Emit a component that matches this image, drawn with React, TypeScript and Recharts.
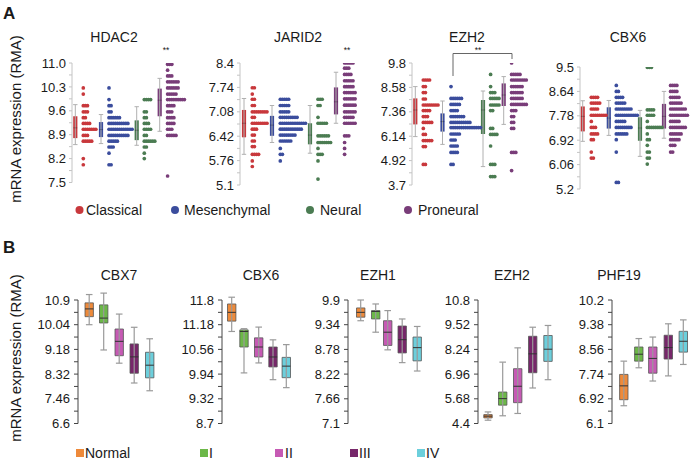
import React from 'react';
import { ComposedChart, Scatter, XAxis, YAxis, ReferenceArea, ReferenceLine } from 'recharts';

const FONT = 'Arial, "Liberation Sans", Helvetica, sans-serif';

// ---- panel A: GBM subtypes (dot rows + box) ----
const subtypes = ['Classical', 'Mesenchymal', 'Neural', 'Proneural'];
const subtypeColors = ['#c8383c', '#3b4d9d', '#4b7c52', '#793d79'];
const genesA = ['HDAC2', 'JARID2', 'EZH2', 'CBX6'];

const hdac2Ticks = ['7.5', '8.2', '8.9', '9.6', '10.3', '11.0'];
const jarid2Ticks = ['5.1', '5.76', '6.42', '7.08', '7.74', '8.4'];
const ezh2ATicks = ['3.7', '4.92', '6.14', '7.36', '8.58', '9.8'];
const cbx6ATicks = ['5.2', '6.06', '6.92', '7.78', '8.64', '9.5'];

// [min, q1, median, q3, max]
const hdac2Stats = [[8.61, 8.8, 9.1, 9.44, 9.78], [8.64, 8.83, 9.05, 9.27, 9.49], [8.59, 8.74, 9.03, 9.32, 9.72], [9.0, 9.44, 9.91, 10.25, 10.55]];
const jarid2Stats = [[5.93, 6.39, 6.77, 7.13, 7.44], [6.25, 6.43, 6.72, 6.97, 7.25], [5.96, 6.2, 6.45, 6.77, 7.25], [6.77, 7.01, 7.35, 7.74, 8.15]];
const ezh2AStats = [[6.12, 6.73, 7.45, 8.03, 8.62], [5.73, 6.37, 6.87, 7.28, 7.9], [4.62, 6.25, 7.45, 7.95, 8.4], [6.73, 7.65, 8.2, 8.78, 9.12]];
const cbx6AStats = [[6.88, 7.23, 7.76, 8.11, 8.31], [7.09, 7.33, 7.7, 8.08, 8.32], [6.35, 6.9, 7.35, 7.73, 7.97], [6.99, 7.33, 7.76, 8.2, 8.64]];

// dot rows: [value, number of samples]
const hdac2Rows = [
  [[10.27, 1], [10.09, 1], [9.75, 3], [9.57, 3], [9.4, 2], [9.23, 4], [9.06, 7], [8.88, 3], [8.71, 5], [8.2, 1], [8.02, 1]],
  [[10.27, 1], [9.93, 1], [9.75, 2], [9.57, 2], [9.4, 6], [9.23, 10], [9.06, 12], [8.88, 10], [8.71, 5], [8.54, 3], [8.36, 1], [8.02, 2]],
  [[9.93, 4], [9.57, 2], [9.4, 2], [9.23, 3], [9.06, 4], [8.88, 2], [8.71, 6], [8.54, 2], [8.36, 1], [8.2, 1]],
  [[10.96, 3], [10.79, 1], [10.62, 3], [10.45, 6], [10.27, 6], [10.09, 5], [9.93, 9], [9.75, 4], [9.57, 3], [9.4, 4], [9.23, 4], [9.06, 3], [8.88, 5], [7.69, 1]],
];
const jarid2Rows = [
  [[7.73, 2], [7.56, 1], [7.42, 2], [7.25, 2], [7.08, 8], [6.93, 2], [6.77, 8], [6.61, 3], [6.45, 2], [6.29, 2], [6.14, 2], [5.93, 4], [5.75, 1], [5.6, 1]],
  [[7.42, 5], [7.25, 5], [7.08, 5], [6.93, 9], [6.77, 13], [6.61, 11], [6.45, 8], [6.29, 6], [6.09, 1], [5.93, 2], [5.75, 1]],
  [[7.42, 3], [7.25, 2], [6.93, 1], [6.77, 5], [6.43, 6], [6.25, 7], [6.09, 1], [5.93, 3], [5.75, 1], [5.26, 1]],
  [[8.4, 5], [8.26, 3], [8.09, 4], [7.92, 5], [7.76, 5], [7.6, 6], [7.43, 6], [7.26, 6], [7.08, 6], [6.93, 5], [6.77, 6], [6.43, 3], [6.25, 1], [6.09, 1], [5.93, 1]],
];
const ezh2ARows = [
  [[8.95, 4], [8.62, 2], [8.32, 2], [8.0, 2], [7.7, 8], [7.42, 4], [7.12, 3], [6.83, 5], [6.53, 1], [6.23, 2], [5.92, 5], [5.62, 2], [4.73, 2]],
  [[8.62, 1], [8.03, 6], [7.73, 5], [7.42, 4], [7.12, 7], [6.83, 10], [6.57, 15], [6.25, 5], [5.95, 3], [5.65, 4], [5.33, 4], [4.73, 2]],
  [[9.23, 1], [8.62, 1], [8.32, 3], [8.03, 5], [7.7, 5], [7.42, 2], [6.53, 2], [6.23, 4], [5.65, 1], [4.73, 3], [4.12, 3]],
  [[9.8, 1], [9.23, 5], [8.95, 8], [8.62, 6], [8.32, 6], [8.03, 6], [7.73, 8], [7.42, 3], [7.12, 2], [6.83, 2], [6.53, 2], [5.33, 3], [4.42, 1]],
];
const cbx6ARows = [
  [[8.43, 4], [8.23, 5], [8.02, 4], [7.8, 8], [7.58, 1], [7.37, 3], [7.14, 4], [6.94, 2], [6.5, 1], [6.29, 2]],
  [[8.85, 1], [8.64, 2], [8.43, 4], [8.23, 5], [8.02, 8], [7.8, 11], [7.58, 5], [7.37, 8], [7.14, 6], [6.94, 1], [6.5, 1], [5.43, 2]],
  [[9.49, 3], [7.99, 4], [7.8, 4], [7.58, 1], [7.37, 8], [7.14, 1], [6.94, 2], [6.74, 1], [6.5, 2], [6.29, 2], [6.08, 1]],
  [[8.85, 4], [8.64, 4], [8.43, 5], [8.23, 6], [8.02, 8], [7.8, 9], [7.58, 5], [7.37, 8], [7.14, 6], [6.94, 5], [6.74, 3], [6.5, 2]],
];

// ---- panel B: grades ----
const grades = ['Normal', 'I', 'II', 'III', 'IV'];
const gradeColors = ['#ee8a3a', '#6cb848', '#c65ab4', '#77276a', '#6ccfdc'];
const genesB = ['CBX7', 'CBX6', 'EZH1', 'EZH2', 'PHF19'];

const cbx7Ticks = ['6.6', '7.46', '8.32', '9.18', '10.04', '10.9'];
const cbx6BTicks = ['8.7', '9.32', '9.94', '10.56', '11.18', '11.8'];
const ezh1Ticks = ['7.1', '7.66', '8.22', '8.78', '9.34', '9.9'];
const ezh2BTicks = ['4.4', '5.68', '6.96', '8.24', '9.52', '10.8'];
const phf19Ticks = ['6.1', '6.92', '7.74', '8.56', '9.38', '10.2'];

const cbx7Stats = [[10.04, 10.32, 10.59, 10.8, 11.09], [9.16, 10.1, 10.27, 10.73, 11.14], [8.7, 8.96, 9.46, 9.89, 10.41], [8.01, 8.35, 8.92, 9.37, 9.95], [7.74, 8.19, 8.63, 9.08, 9.55]];
const cbx6BStats = [[11.01, 11.27, 11.49, 11.7, 11.87], [9.97, 10.62, 11.01, 11.05, 11.08], [10.22, 10.37, 10.62, 10.85, 11.12], [9.8, 10.12, 10.37, 10.62, 10.8], [9.6, 9.85, 10.14, 10.36, 10.68]];
const ezh1Stats = [[9.43, 9.51, 9.62, 9.72, 9.9], [9.17, 9.47, 9.64, 9.66, 9.81], [8.77, 8.87, 9.17, 9.43, 9.66], [8.48, 8.7, 9.0, 9.31, 9.47], [8.29, 8.52, 8.82, 9.06, 9.3]];
const ezh2BStats = [[4.57, 4.69, 4.78, 4.86, 5.0], [4.8, 5.35, 5.69, 6.03, 7.58], [4.92, 5.48, 6.33, 7.24, 8.32], [6.24, 7.03, 8.01, 8.92, 9.39], [6.67, 7.62, 8.25, 8.96, 9.48]];
const phf19Stats = [[6.69, 6.89, 7.35, 7.73, 8.17], [7.95, 8.17, 8.4, 8.64, 8.92], [7.51, 7.77, 8.26, 8.64, 8.97], [7.68, 8.24, 8.62, 9.03, 9.41], [8.06, 8.47, 8.83, 9.16, 9.54]];

// ---- layout ----
const YW = 50;
const PAD = 12;
const A_PW = 122;
const B_PW = 80;
const DOT_STEP = 2.1;

const layoutA = [
  { axis: 72, top: 63, bottom: 182.5, box: [3.3, 29, 64.7, 87.7], dots: [11.3, 37, 72.3, 95.6], titleX: 114 },
  { axis: 240, top: 63, bottom: 185, box: [4, 32, 70, 96], dots: [12.3, 40.3, 78, 104.6], titleX: 298 },
  { axis: 412, top: 63, bottom: 185, box: [3.3, 30.5, 71, 91.7], dots: [11.3, 39, 78.6, 99.6], titleX: 467 },
  { axis: 580, top: 67, bottom: 189, box: [2.7, 28.8, 60, 84], dots: [11.3, 36.3, 67.3, 90.6], titleX: 628 },
];
const layoutB = [
  { axis: 78.3, box: [11.2, 25.7, 41.2, 56.2, 71.7], titleX: 119 },
  { axis: 222, box: [9.7, 22, 36.7, 51, 64.3], titleX: 261 },
  { axis: 348.3, box: [12.7, 27.7, 39.7, 54.2, 69.2], titleX: 378 },
  { axis: 478.3, box: [10, 24.7, 39.7, 54.7, 70], titleX: 512 },
  { axis: 611.7, box: [11.8, 26.8, 40.8, 56.3, 71.3], titleX: 619 },
];
const B_TOP = 300;
const B_BOTTOM = 423.5;

function tickSet(labels: string[]) {
  const vals = labels.map(Number);
  const all: number[] = [];
  vals.forEach((v, i) => {
    all.push(v);
    if (i < vals.length - 1) all.push((v + vals[i + 1]) / 2);
  });
  const fmt = (v: number) => {
    const i = vals.findIndex((t) => Math.abs(t - v) < 1e-6);
    return i >= 0 ? labels[i] : '';
  };
  return { vals, all, fmt };
}

function DotBoxPlot({ ticks, stats, rows, lay }: any) {
  const { vals, all, fmt } = tickSet(ticks);
  const h = lay.bottom - lay.top;
  return (
    <div style={{ position: 'absolute', left: lay.axis - YW, top: lay.top - PAD }}>
      <ComposedChart width={YW + A_PW} height={h + PAD * 2} margin={{ top: PAD, bottom: PAD, left: 0, right: 0 }}>
        <XAxis type="number" dataKey="x" domain={[0, A_PW]} hide allowDataOverflow />
        <YAxis
          type="number"
          dataKey="y"
          width={YW}
          domain={[vals[0], vals[vals.length - 1]]}
          ticks={all}
          interval={0}
          allowDataOverflow
          tickFormatter={fmt}
          axisLine={{ stroke: '#c4c4c4' }}
          tickLine={{ stroke: '#c4c4c4' }}
          tickSize={3}
          tickMargin={3}
          tick={{ fill: '#1a1a1a', fontSize: 13, fontFamily: FONT }}
        />
        {stats.map((s: number[], g: number) => {
          const c = lay.box[g];
          return (
            <React.Fragment key={'w' + g}>
              <ReferenceLine segment={[{ x: c, y: s[0] }, { x: c, y: s[4] }]} stroke="#b0b0b0" ifOverflow="visible" />
              <ReferenceLine segment={[{ x: c - 2.2, y: s[0] }, { x: c + 2.2, y: s[0] }]} stroke="#b0b0b0" ifOverflow="visible" />
              <ReferenceLine segment={[{ x: c - 2.2, y: s[4] }, { x: c + 2.2, y: s[4] }]} stroke="#b0b0b0" ifOverflow="visible" />
              <ReferenceArea x1={c - 2.1} x2={c + 2.1} y1={s[1]} y2={s[3]} fill={subtypeColors[g]} fillOpacity={1} stroke="none" ifOverflow="visible" />
              <ReferenceLine segment={[{ x: c - 2.1, y: s[2] }, { x: c + 2.1, y: s[2] }]} stroke="rgba(0,0,0,0.25)" ifOverflow="visible" />
            </React.Fragment>
          );
        })}
        {rows.map((r: number[][], g: number) => {
          const pts: { x: number; y: number }[] = [];
          r.forEach(([v, n]) => {
            for (let k = 0; k < n; k++) pts.push({ x: lay.dots[g] + k * DOT_STEP, y: v });
          });
          const col = subtypeColors[g];
          return (
            <Scatter
              key={'s' + g}
              data={pts}
              isAnimationActive={false}
              shape={(p: any) => <circle cx={p.cx} cy={p.cy} r={1.85} fill={col} />}
            />
          );
        })}
      </ComposedChart>
    </div>
  );
}

function GradeBoxPlot({ ticks, stats, lay }: any) {
  const { vals, all, fmt } = tickSet(ticks);
  const h = B_BOTTOM - B_TOP;
  return (
    <div style={{ position: 'absolute', left: lay.axis - YW, top: B_TOP - PAD }}>
      <ComposedChart width={YW + B_PW} height={h + PAD * 2} margin={{ top: PAD, bottom: PAD, left: 0, right: 0 }}>
        <XAxis type="number" dataKey="x" domain={[0, B_PW]} hide allowDataOverflow />
        <YAxis
          type="number"
          dataKey="y"
          width={YW}
          domain={[vals[0], vals[vals.length - 1]]}
          ticks={all}
          interval={0}
          allowDataOverflow
          tickFormatter={fmt}
          axisLine={{ stroke: '#444' }}
          tickLine={{ stroke: '#444' }}
          tickSize={4}
          tickMargin={4}
          tick={{ fill: '#1a1a1a', fontSize: 13, fontFamily: FONT }}
        />
        {stats.map((s: number[], g: number) => {
          const c = lay.box[g];
          return (
            <React.Fragment key={'b' + g}>
              <ReferenceLine segment={[{ x: c, y: s[0] }, { x: c, y: s[4] }]} stroke="#9a9a9a" strokeWidth={1.2} ifOverflow="visible" />
              <ReferenceLine segment={[{ x: c - 3.3, y: s[0] }, { x: c + 3.3, y: s[0] }]} stroke="#9a9a9a" strokeWidth={1.2} ifOverflow="visible" />
              <ReferenceLine segment={[{ x: c - 3.3, y: s[4] }, { x: c + 3.3, y: s[4] }]} stroke="#9a9a9a" strokeWidth={1.2} ifOverflow="visible" />
              <ReferenceArea x1={c - 4.2} x2={c + 4.2} y1={s[1]} y2={s[3]} fill={gradeColors[g]} fillOpacity={1} stroke="#555" strokeWidth={0.8} ifOverflow="visible" />
              <ReferenceLine segment={[{ x: c - 4.2, y: s[2] }, { x: c + 4.2, y: s[2] }]} stroke="#333" strokeWidth={1} ifOverflow="visible" />
            </React.Fragment>
          );
        })}
      </ComposedChart>
    </div>
  );
}

const aTickSets = [hdac2Ticks, jarid2Ticks, ezh2ATicks, cbx6ATicks];
const aStatSets = [hdac2Stats, jarid2Stats, ezh2AStats, cbx6AStats];
const aRowSets = [hdac2Rows, jarid2Rows, ezh2ARows, cbx6ARows];
const bTickSets = [cbx7Ticks, cbx6BTicks, ezh1Ticks, ezh2BTicks, phf19Ticks];
const bStatSets = [cbx7Stats, cbx6BStats, ezh1Stats, ezh2BStats, phf19Stats];

const legendA = [
  { dot: 79.5, text: 86 },
  { dot: 175, text: 184 },
  { dot: 310, text: 320 },
  { dot: 408, text: 418 },
];
const legendB = [
  { sq: 76, text: 85 },
  { sq: 200, text: 209 },
  { sq: 275, text: 285 },
  { sq: 350, text: 359 },
  { sq: 417, text: 426 },
];

export default function App() {
  const txt = { fontFamily: FONT, fill: '#1a1a1a' };
  return (
    <div style={{ position: 'absolute', left: 0, top: 0, width: 691, height: 463, background: '#fff', overflow: 'hidden' }}>
      {genesA.map((g, i) => (
        <DotBoxPlot key={g} ticks={aTickSets[i]} stats={aStatSets[i]} rows={aRowSets[i]} lay={layoutA[i]} />
      ))}
      {genesB.map((g, i) => (
        <GradeBoxPlot key={g + i} ticks={bTickSets[i]} stats={bStatSets[i]} lay={layoutB[i]} />
      ))}
      <svg width={691} height={463} style={{ position: 'absolute', left: 0, top: 0, pointerEvents: 'none' }}>
        <text x={3} y={19} fontSize={17} fontWeight="bold" {...txt}>A</text>
        <text x={3} y={253} fontSize={17} fontWeight="bold" {...txt}>B</text>
        <text transform="translate(21,119) rotate(-90)" textAnchor="middle" fontSize={15} {...txt}>mRNA expression (RMA)</text>
        <text transform="translate(21,358) rotate(-90)" textAnchor="middle" fontSize={15} {...txt}>mRNA expression (RMA)</text>
        {genesA.map((g, i) => (
          <text key={g} x={layoutA[i].titleX} y={42} textAnchor="middle" fontSize={14} {...txt}>{g}</text>
        ))}
        {genesB.map((g, i) => (
          <text key={g + i} x={layoutB[i].titleX} y={280} textAnchor="middle" fontSize={14} {...txt}>{g}</text>
        ))}
        <text x={166} y={53} textAnchor="middle" fontSize={8.5} {...txt}>**</text>
        <text x={347} y={53} textAnchor="middle" fontSize={8.5} {...txt}>**</text>
        <text x={478} y={53} textAnchor="middle" fontSize={8.5} {...txt}>**</text>
        <path d="M453,76 V53.5 H512 V59" fill="none" stroke="#666" strokeWidth={1} />
        {subtypes.map((s, i) => (
          <g key={s}>
            <circle cx={legendA[i].dot} cy={210} r={4} fill={subtypeColors[i]} />
            <text x={legendA[i].text} y={215} fontSize={14} {...txt}>{s}</text>
          </g>
        ))}
        {grades.map((s, i) => (
          <g key={s}>
            <rect x={legendB[i].sq} y={449} width={8} height={8} fill={gradeColors[i]} />
            <text x={legendB[i].text} y={458} fontSize={14} {...txt}>{s}</text>
          </g>
        ))}
      </svg>
    </div>
  );
}
